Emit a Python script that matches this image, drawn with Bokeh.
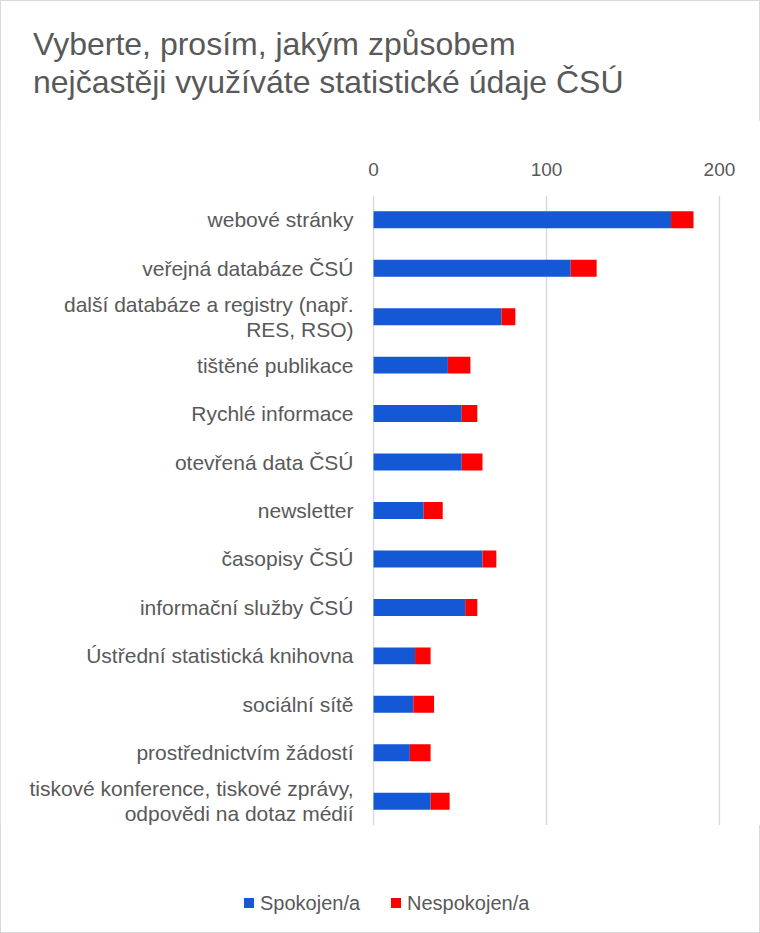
from bokeh.plotting import figure
from bokeh.models import FactorRange, Range1d, FixedTicker, ColumnDataSource, Div
from bokeh.layouts import column
from bokeh.embed import file_html
from bokeh.resources import INLINE

categories = [
    "webové stránky",
    "veřejná databáze ČSÚ",
    "další databáze a registry (např.\nRES, RSO)",
    "tištěné publikace",
    "Rychlé informace",
    "otevřená data ČSÚ",
    "newsletter",
    "časopisy ČSÚ",
    "informační služby ČSÚ",
    "Ústřední statistická knihovna",
    "sociální sítě",
    "prostřednictvím žádostí",
    "tiskové konference, tiskové zprávy,\nodpovědi na dotaz médií",
]
spokojen = [172, 114, 74, 43, 51, 51, 29, 63, 53, 24, 23, 21, 33]
nespokojen = [13, 15, 8, 13, 9, 12, 11, 8, 7, 9, 12, 12, 11]
series_names = ["Spokojen/a", "Nespokojen/a"]
x_ticks = [0, 100, 200]
title_lines = ["Vyberte, prosím, jakým způsobem",
               "nejčastěji využíváte statistické údaje ČSÚ"]

BLUE = "#1558D6"
RED = "#FF0000"
TXT = "#595959"
FONT = "Liberation Sans"
COLORS = [BLUE, RED]

# ---- title (HTML text) ----
title_html = (
    '<div style="position:relative;width:760px;height:120px;">'
    f'<div style="position:absolute;left:33px;top:25px;font-family:\'{FONT}\';'
    f'font-size:32px;line-height:38px;color:{TXT};white-space:nowrap;">'
    + "<br>".join(title_lines) +
    '</div></div>'
)
title_div = Div(text=title_html, width=760, height=120, margin=(0, 0, 0, 0))

# ---- main chart ----
src = ColumnDataSource(dict(cat=categories, s=spokojen, n=nespokojen))

p = figure(
    frame_width=348, frame_height=630,
    y_range=FactorRange(factors=list(reversed(categories))),
    x_range=Range1d(-0.6, 200.6),
    x_axis_location="above",
    output_backend="svg", toolbar_location=None,
    min_border_left=372, min_border_right=40,
    min_border_top=75, min_border_bottom=0,
)
p.hbar_stack(["s", "n"], y="cat", height=0.35, color=COLORS, source=src,
             line_color=None)

p.outline_line_color = None
p.background_fill_color = "white"
p.border_fill_color = "white"

p.xgrid.grid_line_color = "#d9d9d9"
p.xgrid.grid_line_width = 1.5
p.ygrid.grid_line_color = None

xa = p.xaxis[0]
xa.ticker = FixedTicker(ticks=x_ticks)
xa.axis_line_color = None
xa.major_tick_line_color = None
xa.major_tick_out = 0
xa.major_tick_in = 0
xa.minor_tick_line_color = None
xa.major_label_text_font = FONT
xa.major_label_text_font_size = "19px"
xa.major_label_text_color = TXT
xa.major_label_standoff = 20

ya = p.yaxis[0]
ya.axis_line_color = None
ya.major_tick_line_color = None
ya.major_tick_out = 0
ya.major_tick_in = 0
ya.minor_tick_line_color = None
ya.major_label_text_font = FONT
ya.major_label_text_font_size = "21px"
ya.major_label_text_color = TXT
ya.major_label_text_line_height = 1.08
ya.major_label_standoff = 19

# ---- legend (HTML) ----
legend_parts = []
for name, col, sq_x in zip(series_names, COLORS, [244, 391]):
    legend_parts.append(
        f'<span style="position:absolute;left:{sq_x}px;top:73px;width:10px;height:10px;'
        f'background:{col};"></span>'
        f'<span style="position:absolute;left:{sq_x + 16}px;top:66px;font-family:\'{FONT}\';'
        f'font-size:20px;line-height:24px;color:{TXT};white-space:nowrap;">{name}</span>'
    )
legend_html = ('<div style="position:relative;width:760px;height:108px;">'
               + "".join(legend_parts) + '</div>')
legend_div = Div(text=legend_html, width=760, height=108, margin=(0, 0, 0, 0))

layout = column(title_div, p, legend_div, spacing=0)
layout.styles = {"outline": "1px solid #d9d9d9", "outline-offset": "-1px",
                 "background": "white"}

open("out.html", "w").write(file_html(layout, INLINE))
